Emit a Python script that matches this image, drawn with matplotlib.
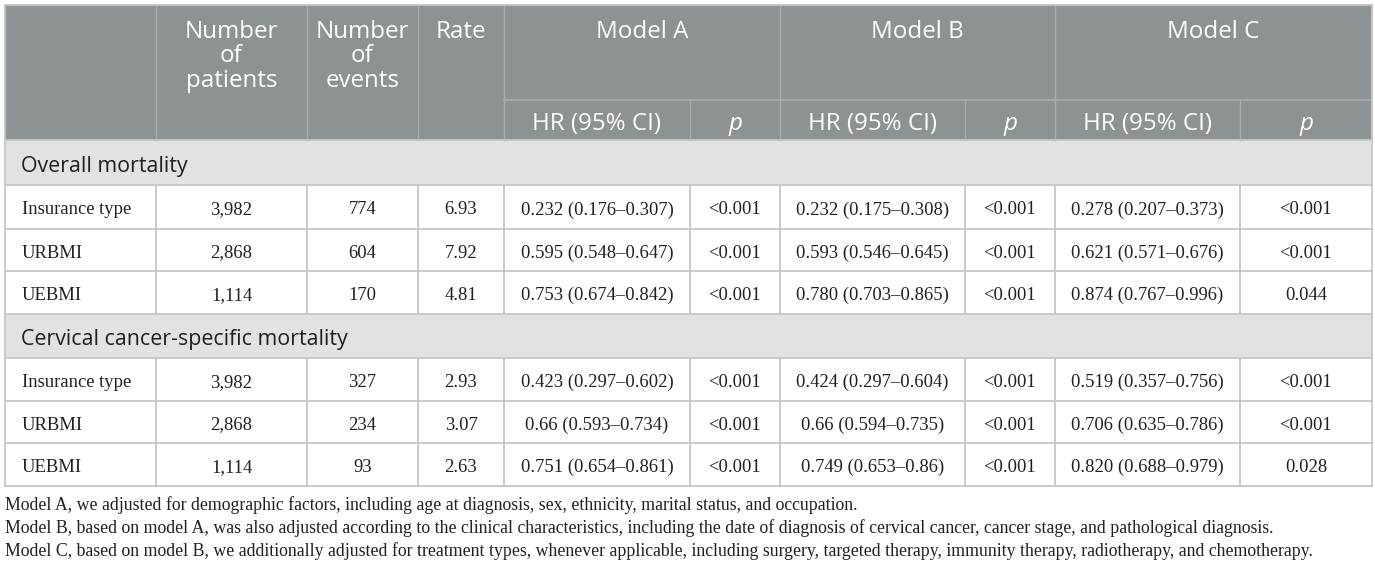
import matplotlib
matplotlib.use("Agg")
import matplotlib.pyplot as plt
from matplotlib.patches import Rectangle

# ---------------- data ----------------
header_top = ["", ["Number", "of", "patients"], ["Number", "of", "events"], ["Rate"]]
model_names = ["Model A", "Model B", "Model C"]
sub_headers = ["HR (95% CI)", "p"]

sections = ["Overall mortality", "Cervical cancer-specific mortality"]
row_labels = ["Insurance type", "URBMI", "UEBMI"]

patients = [["3,982", "2,868", "1,114"], ["3,982", "2,868", "1,114"]]
events = [["774", "604", "170"], ["327", "234", "93"]]
rates = [["6.93", "7.92", "4.81"], ["2.93", "3.07", "2.63"]]

hr_a = [["0.232 (0.176–0.307)", "0.595 (0.548–0.647)", "0.753 (0.674–0.842)"],
        ["0.423 (0.297–0.602)", "0.66 (0.593–0.734)", "0.751 (0.654–0.861)"]]
p_a = [["<0.001", "<0.001", "<0.001"], ["<0.001", "<0.001", "<0.001"]]
hr_b = [["0.232 (0.175–0.308)", "0.593 (0.546–0.645)", "0.780 (0.703–0.865)"],
        ["0.424 (0.297–0.604)", "0.66 (0.594–0.735)", "0.749 (0.653–0.86)"]]
p_b = [["<0.001", "<0.001", "<0.001"], ["<0.001", "<0.001", "<0.001"]]
hr_c = [["0.278 (0.207–0.373)", "0.621 (0.571–0.676)", "0.874 (0.767–0.996)"],
        ["0.519 (0.357–0.756)", "0.706 (0.635–0.786)", "0.820 (0.688–0.979)"]]
p_c = [["<0.001", "<0.001", "0.044"], ["<0.001", "<0.001", "0.028"]]

footnotes = [
    "Model A, we adjusted for demographic factors, including age at diagnosis, sex, ethnicity, marital status, and occupation.",
    "Model B, based on model A, was also adjusted according to the clinical characteristics, including the date of diagnosis of cervical cancer, cancer stage, and pathological diagnosis.",
    "Model C, based on model B, we additionally adjusted for treatment types, whenever applicable, including surgery, targeted therapy, immunity therapy, radiotherapy, and chemotherapy.",
]

# ---------------- layout ----------------
W, H = 1375, 568
fig = plt.figure(figsize=(W / 100, H / 100), dpi=100)
ax = fig.add_axes([0, 0, 1, 1])
ax.set_xlim(0, W)
ax.set_ylim(H, 0)
ax.axis("off")
renderer = fig.canvas.get_renderer()

sans = ["Open Sans", "DejaVu Sans"]
serif = ["Liberation Serif", "DejaVu Serif"]


def fit(text, fam, target, style="normal", weight="normal"):
    t = ax.text(0, 0, text, fontsize=10, family=fam, style=style, fontweight=weight)
    w = t.get_window_extent(renderer).width
    t.remove()
    return 10.0 * target / w


HW = "normal"
hfs = (fit("Model A", sans, 91, weight=HW) + fit("Number", sans, 93, weight=HW)
       + fit("HR (95% CI)", sans, 131, weight=HW)) / 3
sec_fs = fit("Overall mortality", sans, 166, weight=HW)
dfs = (fit("0.232 (0.176–0.307)", serif, 151) + fit("Insurance type", serif, 114)
       + fit("3,982", serif, 40)) / 3
ffs = fit(footnotes[0], serif, 850)

col_x = [5, 156, 307, 418, 504, 690, 780, 965, 1055, 1240, 1372]
top, sub_y, head_bot = 5, 100, 140
row_edges = [140, 185, 229, 271, 314, 358, 401, 443, 486]

HEAD_BG = "#8d9294"
HEAD_LINE = "#a9adaf"
SEC_BG = "#e1e2e2"
GRID = "#c6c6c6"
TXT = "#231f20"

# header background
ax.add_patch(Rectangle((col_x[0], top), col_x[-1] - col_x[0], head_bot - top,
                       facecolor=HEAD_BG, edgecolor="none", zorder=1))
for xi in [1, 2, 3, 4, 6, 8]:
    ax.plot([col_x[xi], col_x[xi]], [top, head_bot], color=HEAD_LINE, lw=1.0, zorder=2)
for xi in [5, 7, 9]:
    ax.plot([col_x[xi], col_x[xi]], [sub_y, head_bot], color=HEAD_LINE, lw=1.0, zorder=2)
ax.plot([col_x[4], col_x[-1]], [sub_y, sub_y], color=HEAD_LINE, lw=1.2, zorder=2)

# header text
for i, lines in enumerate(header_top):
    if not lines:
        continue
    cx = (col_x[i] + col_x[i + 1]) / 2
    for k, ln in enumerate(lines):
        ax.text(cx, 38 + 24.5 * k, ln, ha="center", va="baseline", color="white",
                fontsize=hfs, family=sans, fontweight=HW, zorder=3)
for m, name in enumerate(model_names):
    x0 = col_x[4 + 2 * m]
    x1 = col_x[6 + 2 * m]
    ax.text((x0 + x1) / 2, 38, name, ha="center", va="baseline", color="white",
            fontsize=hfs, family=sans, fontweight=HW, zorder=3)
    for s in range(2):
        cx = (col_x[4 + 2 * m + s] + col_x[5 + 2 * m + s]) / 2
        ax.text(cx, 130, sub_headers[s], ha="center", va="baseline", color="white",
                fontsize=hfs, family=sans, fontweight=HW,
                style="italic" if s == 1 else "normal", zorder=3)

# body
body_cols = [patients, events, rates, hr_a, p_a, hr_b, p_b, hr_c, p_c]
r = 0
for si, sec in enumerate(sections):
    y0, y1 = row_edges[r], row_edges[r + 1]
    ax.add_patch(Rectangle((col_x[0], y0), col_x[-1] - col_x[0], y1 - y0,
                           facecolor=SEC_BG, edgecolor="none", zorder=1))
    ax.text(21, (y0 + y1) / 2 + 9.5, sec, ha="left", va="baseline", color=TXT,
            fontsize=sec_fs, family=sans, fontweight=HW, zorder=3)
    r += 1
    for li, lab in enumerate(row_labels):
        y0, y1 = row_edges[r], row_edges[r + 1]
        by = (y0 + y1) / 2 + 7.5
        ax.text(22, by, lab, ha="left", va="baseline", color=TXT, fontsize=dfs,
                family=serif, zorder=3)
        for ci, col in enumerate(body_cols):
            cx = (col_x[ci + 1] + col_x[ci + 2]) / 2
            ax.text(cx, by, col[si][li], ha="center", va="baseline", color=TXT,
                    fontsize=dfs, family=serif, zorder=3)
        for x in col_x[1:-1]:
            ax.plot([x, x], [y0, y1], color=GRID, lw=1.3, zorder=2)
        r += 1

for y in row_edges:
    ax.plot([col_x[0], col_x[-1]], [y, y], color=GRID, lw=1.3, zorder=2)
ax.plot([col_x[0], col_x[0]], [top, row_edges[-1]], color=GRID, lw=1.3, zorder=2)
ax.plot([col_x[-1], col_x[-1]], [top, row_edges[-1]], color=GRID, lw=1.3, zorder=2)
ax.plot([col_x[0], col_x[-1]], [top, top], color=GRID, lw=1.3, zorder=2)

# footnotes
for i, fn in enumerate(footnotes):
    ax.text(5, 510 + 23 * i, fn, ha="left", va="baseline", color=TXT,
            fontsize=ffs, family=serif)

fig.savefig("out.png", dpi=100, facecolor="white")
